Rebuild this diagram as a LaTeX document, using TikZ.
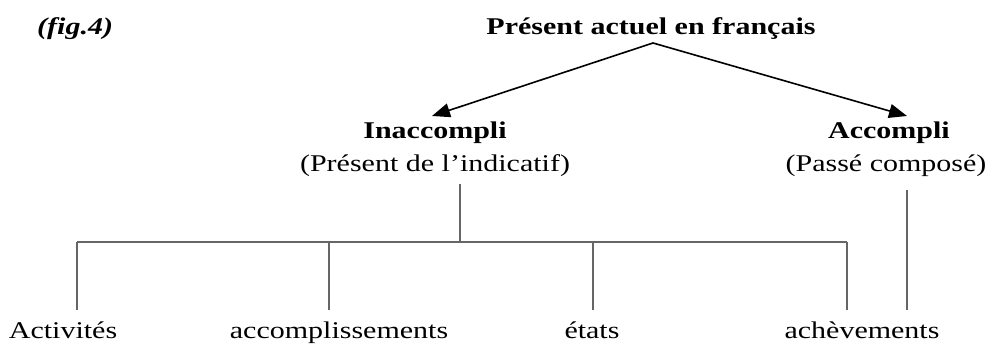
\documentclass[tikz,border=0pt]{standalone}
\usepackage{fontspec}
\setmainfont{Liberation Serif}[FakeStretch=1.25]
\usetikzlibrary{arrows.meta}
\begin{document}
\begin{tikzpicture}[x=1pt,y=-1pt,
  lbl/.style={inner sep=0pt,anchor=base,font=\fontsize{24}{28}\selectfont},
  blbl/.style={inner sep=0pt,anchor=base,font=\fontsize{24}{28}\selectfont\bfseries},
  arr/.style={black,line width=1.6pt,-{Triangle[length=18pt,width=14pt]}},
  tree/.style={draw=black!60,line width=1.8pt}]
\useasboundingbox (0,0) rectangle (988,344);
\node[blbl,anchor=base west,font=\fontsize{24}{28}\selectfont\bfseries\itshape] (fig) at (37,35) {(fig.4)};
\node[blbl] (top) at (651,35) {Présent actuel en français};
\coordinate (apex) at (653,43);
\node[blbl] (inac) at (435,139) {Inaccompli};
\node[lbl] (inacs) at (435,172) {(Présent de l’indicatif)};
\node[blbl] (acc) at (889,139) {Accompli};
\node[lbl] (accs) at (886,172) {(Passé composé)};
\coordinate (ltip) at (432,116);
\coordinate (rtip) at (907,116);
\draw[arr] (apex) -- (ltip);
\draw[arr] (apex) -- (rtip);
\node[lbl] (a1) at (63,339) {Activités};
\node[lbl] (a2) at (339,339) {accomplissements};
\node[lbl] (a3) at (592,339) {états};
\node[lbl] (a4) at (862,339) {achèvements};
\coordinate (c0) at (460,184);
\coordinate (h) at (460,242);
\coordinate (v1) at (77,242);
\coordinate (v2) at (329,242);
\coordinate (v3) at (593,242);
\coordinate (v4) at (847,242);
\draw[tree] (c0) -- (h);
\draw[tree] (v1) -- (v4);
\foreach \v in {v1,v2,v3,v4} \draw[tree] (\v) -- ++(0,68);
\coordinate (d0) at (907,190);
\draw[tree] (d0) -- ++(0,120);
\end{tikzpicture}
\end{document}
